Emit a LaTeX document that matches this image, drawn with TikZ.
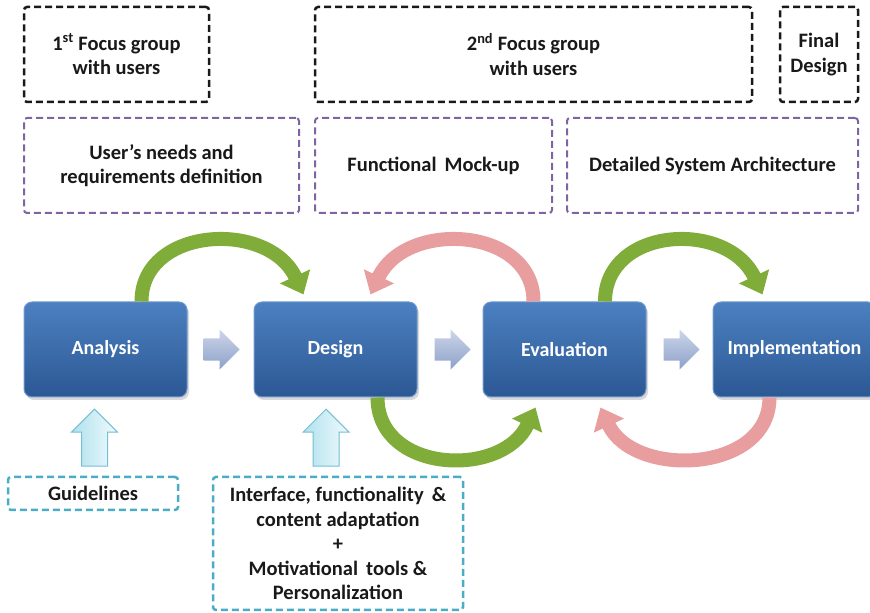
\documentclass[tikz,border=0pt]{standalone}
\usepackage{fontspec}
\setmainfont{Carlito}
\usetikzlibrary{shapes,arrows.meta,positioning,shadows}
\definecolor{stagetop}{RGB}{76,128,192}
\definecolor{stagebot}{RGB}{44,88,148}
\definecolor{flowtop}{RGB}{205,214,234}
\definecolor{flowbot}{RGB}{140,160,200}
\definecolor{uptop}{RGB}{240,250,253}
\definecolor{upbot}{RGB}{175,225,238}
\definecolor{updraw}{RGB}{120,190,210}
\definecolor{fgcol}{RGB}{25,25,25}
\definecolor{reqcol}{RGB}{128,100,162}
\definecolor{incol}{RGB}{75,172,198}
\definecolor{gocol}{RGB}{128,172,58}
\definecolor{backcol}{RGB}{232,158,158}
\tikzstyle{txt} = [font=\fontsize{20.5}{24.5}\selectfont\bfseries, text=black!90, align=center]
\tikzstyle{fgroup} = [txt, rectangle, rounded corners=3pt, draw=fgcol, line width=2.5pt, dash pattern=on 7pt off 4pt, minimum height=95pt]
\tikzstyle{req} = [txt, rectangle, rounded corners=3pt, draw=reqcol, line width=2pt, dash pattern=on 7pt off 4pt, minimum height=95pt]
\tikzstyle{input} = [txt, rectangle, rounded corners=3pt, draw=incol, line width=2.5pt, dash pattern=on 7pt off 4pt]
\tikzstyle{stage} = [rectangle, rounded corners=8pt, minimum width=163pt, minimum height=95pt, top color=stagetop, bottom color=stagebot, draw=stagetop!80!white, line width=1pt, text=white, font=\fontsize{20}{24}\selectfont\bfseries, drop shadow={opacity=0.3, shadow xshift=2pt, shadow yshift=-3pt}]
\tikzstyle{flow} = [single arrow, minimum height=36pt, minimum width=40pt, single arrow head extend=9pt, inner sep=11pt, top color=flowtop, bottom color=flowbot, draw=none]
\tikzstyle{uparr} = [single arrow, shape border rotate=90, minimum height=57pt, minimum width=45pt, single arrow head extend=10pt, inner sep=12.5pt, left color=upbot, right color=uptop, draw=updraw, line width=1pt, anchor=tip]
\tikzstyle{goarc} = [draw=gocol, line width=14pt, -{Triangle[width=32pt,length=20pt]}]
\tikzstyle{backarc} = [draw=backcol, line width=14pt, -{Triangle[width=32pt,length=20pt]}]

\begin{document}
\begin{tikzpicture}[x=1pt, y=1pt]
	\useasboundingbox (0,0) rectangle (870,613);
	% focus groups
	\node[fgroup, minimum width=185pt] (focus1) at (116.5,558.5) {1\textsuperscript{st} Focus group\\with users};
	\node[fgroup, minimum width=437pt] (focus2) at (533.5,558.5) {2\textsuperscript{nd} Focus group\\with users};
	\node[fgroup, minimum width=78pt] (final) at (819,558.5) {Final\\Design};
	% outputs
	\node[req, minimum width=275pt] (needs) at (161.5,447.5) {User's needs and\\requirements definition};
	\node[req, minimum width=237pt] (mockup) at (433.5,447.5) {Functional\, Mock-up};
	\node[req, minimum width=291pt] (archi) at (712.5,447.5) {Detailed System Architecture};
	% stages
	\node[stage] (analysis) at (105.5,263.5) {Analysis};
	\node[stage, right=66pt of analysis] (design) {Design};
	\node[stage, right=65pt of design] (evaluation) {Evaluation};
	\node[stage, right=66pt of evaluation] (impl) {Implementation};
	\node[flow, right=16pt of analysis] (flow1) {};
	\node[flow, right=17pt of design] (flow2) {};
	\node[flow, right=17pt of evaluation] (flow3) {};
	% inputs
	\node[uparr] (up1) at ([xshift=-11pt, yshift=-11pt]analysis.south) {};
	\node[uparr] (up2) at ([xshift=-9.5pt, yshift=-11pt]design.south) {};
	\node[input, minimum width=170pt, minimum height=33pt] (guide) at (93,119.5) {Guidelines};
	\node[input, minimum width=250pt, minimum height=133pt] (adapt) at (338,69.5) {Interface, functionality\, \&\\content adaptation\\+\\Motivational\, tools \&\\Personalization};
	% loops
	\draw[goarc] ([xshift=36pt]analysis.north) .. controls +(0,75) and +(-35,75) .. ([xshift=50pt, yshift=7pt]design.north west);
	\draw[backarc] ([xshift=-31pt]evaluation.north) .. controls +(0,75) and +(35,75) .. ([xshift=-47pt, yshift=7pt]design.north east);
	\draw[goarc] ([xshift=40.5pt]evaluation.north) .. controls +(0,75) and +(-35,75) .. ([xshift=50pt, yshift=7pt]impl.north west);
	\draw[goarc] ([xshift=42pt]design.south) .. controls +(0,-76) and +(-33,-71) .. ([xshift=53pt, yshift=-10pt]evaluation.south west);
	\draw[backarc] ([xshift=-25pt]impl.south) .. controls +(0,-76) and +(33,-71) .. ([xshift=-46pt, yshift=-10pt]evaluation.south east);
\end{tikzpicture}
\end{document}
